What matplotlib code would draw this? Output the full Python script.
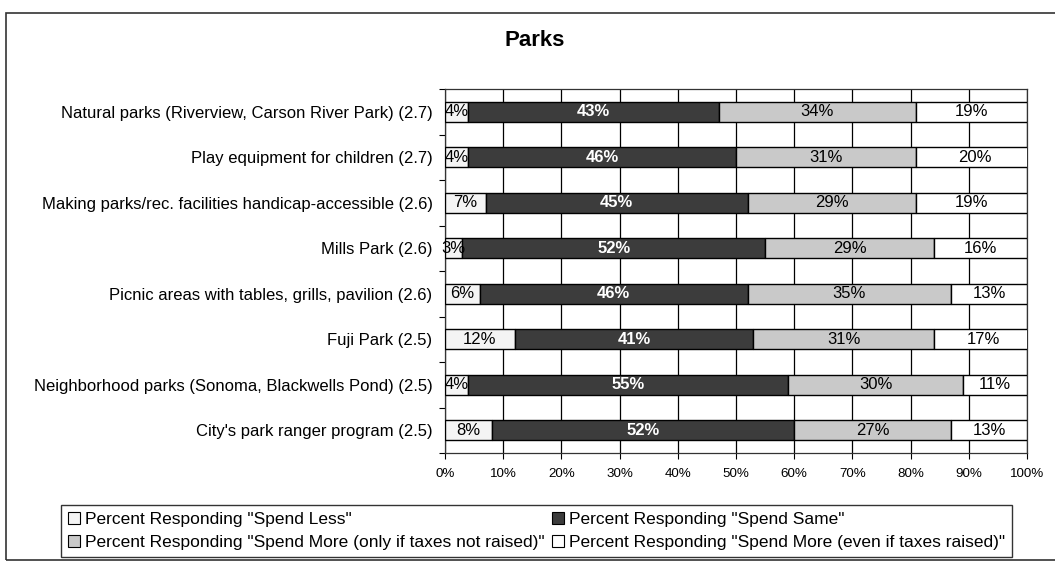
import matplotlib
matplotlib.use('Agg')
import matplotlib.pyplot as plt
from matplotlib.patches import Patch, Rectangle
import numpy as np

plt.rcParams['font.family'] = ['Liberation Sans', 'DejaVu Sans']

categories = [
    'Natural parks (Riverview, Carson River Park) (2.7)',
    'Play equipment for children (2.7)',
    'Making parks/rec. facilities handicap-accessible (2.6)',
    'Mills Park (2.6)',
    'Picnic areas with tables, grills, pavilion (2.6)',
    'Fuji Park (2.5)',
    'Neighborhood parks (Sonoma, Blackwells Pond) (2.5)',
    "City's park ranger program (2.5)",
]
spendLess = [4, 4, 7, 3, 6, 12, 4, 8]
spendSame = [43, 46, 45, 52, 46, 41, 55, 52]
spendMoreNoTax = [34, 31, 29, 29, 35, 31, 30, 27]
spendMoreTax = [19, 20, 19, 16, 13, 17, 11, 13]

seriesNames = [
    'Percent Responding "Spend Less"',
    'Percent Responding "Spend Same"',
    'Percent Responding "Spend More (only if taxes not raised)"',
    'Percent Responding "Spend More (even if taxes raised)"',
]
seriesColors = ['#f4f4f4', '#3c3c3c', '#c9c9c9', 'white']
textColors = ['black', 'white', 'black', 'black']
textWeights = ['normal', 'bold', 'normal', 'normal']

W, H = 1055, 564
fig = plt.figure(figsize=(W / 100, H / 100), dpi=100)
ax = fig.add_axes([445 / W, 1 - 453 / H, (1027 - 445) / W, (453 - 89) / H])

y = np.arange(len(categories))
left = np.zeros(len(categories))
allSeries = [spendLess, spendSame, spendMoreNoTax, spendMoreTax]
for vals, name, color, tc, tw in zip(allSeries, seriesNames, seriesColors, textColors, textWeights):
    vals = np.array(vals, dtype=float)
    ax.barh(y, vals, left=left, height=0.43, color=color, edgecolor='black',
            linewidth=1.0, zorder=3, label=name)
    for yi, l, v in zip(y, left, vals):
        ax.text(l + v / 2, yi, f'{int(v)}%', ha='center', va='center',
                color=tc, fontsize=12, fontweight=tw, zorder=4)
    left += vals

ax.set_xlim(0, 100)
ax.set_ylim(len(categories) - 0.5, -0.5)
ax.set_xticks(np.arange(0, 101, 10))
ax.set_xticklabels([f'{v}%' for v in range(0, 101, 10)], fontsize=9.6)
ax.set_yticks(y)
ax.set_yticklabels(categories, fontsize=12)
ax.set_yticks(np.arange(-0.5, len(categories), 1), minor=True)
ax.tick_params(axis='y', which='major', length=0, pad=9)
ax.tick_params(axis='y', which='minor', length=4, direction='out', width=0.8)
ax.tick_params(axis='x', length=4, direction='out', width=0.8, pad=7)
ax.grid(axis='x', color='black', linewidth=0.9, zorder=0)
for s in ax.spines.values():
    s.set_linewidth(0.9)
    s.set_color('#333333')

fig.text(535 / W, 1 - 41 / H, 'Parks', ha='center', va='center',
         fontsize=16, fontweight='bold')

fig.patches.append(Rectangle((6 / W, 1 - 560 / H), 1.2, (560 - 13) / H,
                             transform=fig.transFigure, fill=False,
                             edgecolor='#333333', linewidth=1.2))

handles = [Patch(facecolor=c, edgecolor='black', linewidth=0.8, label=n)
           for c, n in zip(seriesColors, seriesNames)]
order = [0, 2, 1, 3]
leg = fig.legend([handles[i] for i in order], [seriesNames[i] for i in order],
                 ncol=2, loc='upper left', bbox_to_anchor=(61 / W, 1 - 505 / H),
                 fontsize=12.5, frameon=True, fancybox=False, borderaxespad=0,
                 handlelength=0.7, handleheight=0.7, handletextpad=0.3,
                 columnspacing=0.4, labelspacing=0.45, borderpad=0.4)
leg.get_frame().set_edgecolor('black')
leg.get_frame().set_linewidth(1.0)

fig.savefig('out.png', dpi=100)
